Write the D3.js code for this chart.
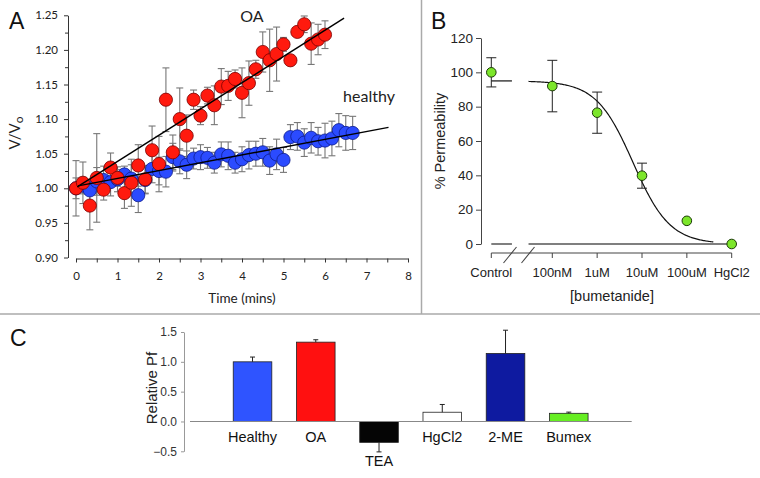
<!DOCTYPE html>
<html>
<head>
<meta charset="utf-8">
<script src="https://cdn.jsdelivr.net/npm/d3@7"></script>
<style>
body { margin: 0; background: #fff; }
text { font-family: "Liberation Sans", Arial, sans-serif; }
</style>
</head>
<body>
<div id="chart"></div>
<script>
// ---- panel A data: relative volume over time (time in seconds) ----
var oaTime = [0,10,20,30,40,50,60,70,80,90,100,110,120,130,140,150,160,170,180,190,200,210,220,230,240,250,260,270,280,290,300,310,320,330,340,350,360];
var oaVol = [1.000,1.008,0.975,1.015,0.998,1.030,1.015,0.993,1.008,1.033,1.013,1.055,1.035,1.128,1.052,1.100,1.076,1.128,1.105,1.134,1.120,1.147,1.148,1.158,1.138,1.152,1.172,1.197,1.185,1.194,1.208,1.185,1.226,1.237,1.209,1.215,1.222];
var oaErr = [0.040,0.030,0.035,0.064,0.015,0.021,0.012,0.022,0.034,0.030,0.020,0.035,0.040,0.046,0.025,0.045,0.030,0.014,0.013,0.012,0.028,0.026,0.021,0.013,0.036,0.032,0.013,0.029,0.045,0.039,0.010,0.005,0.006,0.012,0.030,0.022,0.020];

var healthyTime = [0,10,20,30,40,50,60,70,80,90,100,110,120,130,140,150,160,170,180,190,200,210,220,230,240,250,260,270,280,290,300,310,320,330,340,350,360,370,380,390,400];
var healthyVol = [1.000,1.004,0.997,1.010,1.012,1.009,1.013,1.020,1.014,0.990,1.012,1.028,1.025,1.024,1.045,1.039,1.034,1.043,1.045,1.044,1.037,1.049,1.047,1.037,1.042,1.048,1.050,1.052,1.040,1.049,1.041,1.074,1.075,1.066,1.073,1.068,1.069,1.072,1.084,1.080,1.080];
var healthyErr = [0.015,0.012,0.015,0.020,0.020,0.020,0.018,0.012,0.020,0.025,0.020,0.020,0.020,0.022,0.020,0.018,0.020,0.015,0.018,0.015,0.015,0.018,0.020,0.015,0.018,0.020,0.018,0.020,0.020,0.022,0.018,0.018,0.020,0.020,0.022,0.020,0.025,0.025,0.024,0.025,0.024];

// linear fits: [intercept, slope per min, start min, end min]
var oaFit = [1.001, 0.0379, 0.03, 6.46];
var healthyFit = [1.003, 0.0113, 0.05, 7.53];

// ---- panel B data: permeability vs bumetanide ----
var bCategories = ["Control", "100nM", "1uM", "10uM", "100uM", "HgCl2"];
var bLogConc = [-8.36, -7, -6, -5, -4, -3];
var bValues = [100, 92, 76.5, 39.8, 13.5, 0];
var bErrors = [8.5, 15, 12, 7.3, 1.5, 0];
// sigmoid fit: top, logIC50, hill
var bFit = [95, -5.2, 1.06];

// ---- panel C data: relative Pf ----
var cCategories = ["Healthy", "OA", "TEA", "HgCl2", "2-ME", "Bumex"];
var cValues = [1.0, 1.33, -0.35, 0.155, 1.14, 0.137];
var cErrors = [0.08, 0.04, 0.16, 0.13, 0.39, 0.02];
var cColors = ["#2f54ff", "#ff1010", "#050505", "#ffffff", "#0e1aa0", "#66ee22"];

var svg = d3.select("#chart")
    .append("svg")
    .attr("width", 760)
    .attr("height", 478);

// panel dividers
svg.append("line").attr("x1", 0).attr("x2", 760).attr("y1", 314).attr("y2", 314)
    .attr("stroke", "#aaa").attr("stroke-width", 1.5);
svg.append("line").attr("x1", 421.5).attr("x2", 421.5).attr("y1", 0).attr("y2", 314)
    .attr("stroke", "#aaa").attr("stroke-width", 1.5);

// panel letters
[["A", 9, 29], ["B", 431, 29], ["C", 10, 346]].forEach(function(p) {
    svg.append("text").attr("x", p[1]).attr("y", p[2])
        .style("font-size", "23px").attr("fill", "#111").text(p[0]);
});

// ================= panel A =================
var aFont = "Lato, 'Open Sans', sans-serif";
var xA = d3.scaleLinear().domain([0, 8]).range([76, 408]);
var yA = d3.scaleLinear().domain([0.9, 1.25]).range([257.5, 15.3]);
var gA = svg.append("g");

var xAxisA = gA.append("g")
    .attr("transform", "translate(0,258.5)")
    .call(d3.axisBottom(xA).tickValues(d3.range(0, 8.01, 0.5)).tickSize(4).tickSizeOuter(0)
        .tickFormat(function(d) { return d % 1 === 0 ? d : ""; }));
xAxisA.selectAll("text").style("font-family", aFont).style("font-size", "11.5px").attr("fill", "#222").attr("dy", "1.3em");
xAxisA.selectAll("line").attr("stroke", "#333");
xAxisA.select(".domain").attr("stroke", "#333");

var yAxisA = gA.append("g")
    .attr("transform", "translate(68,0)")
    .call(d3.axisLeft(yA).tickValues(d3.range(0.9, 1.2501, 0.05)).tickSize(4).tickSizeOuter(0)
        .tickFormat(d3.format(".2f")));
yAxisA.selectAll("text").style("font-family", aFont).style("font-size", "11.5px").attr("fill", "#222").attr("x", -10);
yAxisA.selectAll("line").attr("stroke", "#333");
yAxisA.select(".domain").attr("stroke", "#333");
gA.append("g")
    .attr("transform", "translate(68,0)")
    .call(d3.axisLeft(yA).tickValues(d3.range(0.925, 1.25, 0.05)).tickSize(3).tickFormat(""))
    .call(function(g) { g.select(".domain").remove(); })
    .selectAll("line").attr("stroke", "#333");

gA.append("text")
    .attr("transform", "translate(20,133) rotate(-90)")
    .style("text-anchor", "middle").style("font-family", aFont).style("font-size", "15px").attr("fill", "#222")
    .html("V/V<tspan dy='3' font-size='12px'>o</tspan>");
gA.append("text")
    .attr("x", 242).attr("y", 303)
    .style("text-anchor", "middle").style("font-family", aFont).style("font-size", "13.5px").attr("fill", "#222")
    .text("Time (mins)");
gA.append("text").attr("x", 252).attr("y", 22)
    .style("text-anchor", "middle").style("font-family", aFont).style("font-size", "16px").attr("fill", "#222")
    .text("OA");
gA.append("text").attr("x", 369).attr("y", 102)
    .style("text-anchor", "middle").style("font-family", aFont).style("font-size", "16px").attr("fill", "#222")
    .text("healthy");

function drawSeries(times, vals, errs) {
    var pts = times.map(function(t, i) { return { t: t / 60, v: vals[i], e: errs[i] }; });
    var eb = gA.append("g").attr("stroke", "#777").attr("stroke-width", 1.1);
    pts.forEach(function(d) {
        var x = xA(d.t), y0 = yA(d.v - d.e), y1 = yA(d.v + d.e);
        eb.append("line").attr("x1", x).attr("x2", x).attr("y1", y0).attr("y2", y1);
        eb.append("line").attr("x1", x - 3.5).attr("x2", x + 3.5).attr("y1", y0).attr("y2", y0);
        eb.append("line").attr("x1", x - 3.5).attr("x2", x + 3.5).attr("y1", y1).attr("y2", y1);
    });
    return pts;
}
var healthyPts = drawSeries(healthyTime, healthyVol, healthyErr);
var oaPts = drawSeries(oaTime, oaVol, oaErr);

gA.append("g").selectAll("circle")
    .data(healthyPts).enter().append("circle")
    .attr("cx", function(d) { return xA(d.t); })
    .attr("cy", function(d) { return yA(d.v); })
    .attr("r", 6.6)
    .attr("fill", "#2b4bff").attr("stroke", "#0c1c8a").attr("stroke-width", 0.8);
gA.append("g").selectAll("circle")
    .data(oaPts).enter().append("circle")
    .attr("cx", function(d) { return xA(d.t); })
    .attr("cy", function(d) { return yA(d.v); })
    .attr("r", 6.6)
    .attr("fill", "#ff1a0e").attr("stroke", "#7a0000").attr("stroke-width", 0.8);

[oaFit, healthyFit].forEach(function(f) {
    gA.append("line")
        .attr("x1", xA(f[2])).attr("y1", yA(f[0] + f[1] * f[2]))
        .attr("x2", xA(f[3])).attr("y2", yA(f[0] + f[1] * f[3]))
        .attr("stroke", "#000").attr("stroke-width", 1.4);
});

// ================= panel B =================
var xB = d3.scaleLinear().domain([-7, -3]).range([552.3, 731.7]);
var yB = d3.scaleLinear().domain([0, 120]).range([244, 38]);
var gB = svg.append("g");
var breakA = -7.9, breakB = -7.53;

var yAxisB = gB.append("g")
    .attr("transform", "translate(481,0)")
    .call(d3.axisLeft(yB).tickValues(d3.range(0, 121, 20)).tickSize(5).tickSizeOuter(0));
yAxisB.selectAll("text").style("font-size", "13.5px").attr("fill", "#222");
yAxisB.selectAll("line, .domain").attr("stroke", "#444");

// zero line with break
gB.append("line").attr("x1", xB(bLogConc[0])).attr("x2", xB(breakA)).attr("y1", yB(0)).attr("y2", yB(0))
    .attr("stroke", "#555").attr("stroke-width", 1.5);
gB.append("line").attr("x1", xB(breakB)).attr("x2", xB(-3)).attr("y1", yB(0)).attr("y2", yB(0))
    .attr("stroke", "#555").attr("stroke-width", 1.5);

// category axis below
var axY = 253;
gB.append("line").attr("x1", xB(bLogConc[0])).attr("x2", xB(-3)).attr("y1", axY).attr("y2", axY)
    .attr("stroke", "#444").attr("stroke-width", 1.2);
bCategories.forEach(function(c, i) {
    var x = xB(bLogConc[i]);
    gB.append("line").attr("x1", x).attr("x2", x).attr("y1", axY).attr("y2", axY + 5).attr("stroke", "#444");
    gB.append("text").attr("x", x).attr("y", 277)
        .style("text-anchor", "middle").style("font-size", "13px").attr("fill", "#222").text(c);
});
[510, 528].forEach(function(cx) {
    gB.append("line").attr("x1", cx - 6.5).attr("y1", axY + 10).attr("x2", cx + 6.5).attr("y2", axY - 6)
        .attr("stroke", "#444").attr("stroke-width", 1.1);
});

gB.append("text")
    .attr("transform", "translate(445,141) rotate(-90)")
    .style("text-anchor", "middle").style("font-size", "14.5px").attr("fill", "#222")
    .text("% Permeability");
gB.append("text").attr("x", 612).attr("y", 301)
    .style("text-anchor", "middle").style("font-size", "14.5px").attr("fill", "#222")
    .text("[bumetanide]");

// fit curve
function bCurve(lx) { return bFit[0] / (1 + Math.pow(10, (lx - bFit[1]) * bFit[2])); }
gB.append("line").attr("x1", xB(bLogConc[0])).attr("x2", xB(breakA))
    .attr("y1", yB(bFit[0])).attr("y2", yB(bFit[0]))
    .attr("stroke", "#111").attr("stroke-width", 1.2);
gB.append("path")
    .datum(d3.range(breakB, -3.4, 0.02))
    .attr("d", d3.line().x(function(d) { return xB(d); }).y(function(d) { return yB(bCurve(d)); }))
    .attr("fill", "none").attr("stroke", "#111").attr("stroke-width", 1.2);

// error bars and points
bValues.forEach(function(v, i) {
    var e = bErrors[i];
    if (e < 3) return;
    var x = xB(bLogConc[i]);
    gB.append("line").attr("x1", x).attr("x2", x).attr("y1", yB(v - e)).attr("y2", yB(v + e)).attr("stroke", "#222");
    gB.append("line").attr("x1", x - 5).attr("x2", x + 5).attr("y1", yB(v - e)).attr("y2", yB(v - e)).attr("stroke", "#222");
    gB.append("line").attr("x1", x - 5).attr("x2", x + 5).attr("y1", yB(v + e)).attr("y2", yB(v + e)).attr("stroke", "#222");
});
gB.selectAll("circle.bpt")
    .data(bValues).enter().append("circle")
    .attr("class", "bpt")
    .attr("cx", function(d, i) { return xB(bLogConc[i]); })
    .attr("cy", function(d) { return yB(d); })
    .attr("r", 4.8)
    .attr("fill", "#7ce62a").attr("stroke", "#1c3a08").attr("stroke-width", 1);

// ================= panel C =================
var xC = d3.scaleBand().domain(cCategories).range([220.9, 600.4]).paddingInner(0.39).paddingOuter(0.195);
var yC = d3.scaleLinear().domain([-0.5, 1.5]).range([451.3, 332]);
var gC = svg.append("g");

var yAxisC = gC.append("g")
    .attr("transform", "translate(184,0)")
    .call(d3.axisLeft(yC).tickValues([-0.5, 0, 0.5, 1.0, 1.5]).tickSize(3).tickSizeOuter(0).tickFormat(d3.format(".1f")));
yAxisC.selectAll("text").style("font-size", "12px").attr("fill", "#333").attr("x", -7);
yAxisC.selectAll("line, .domain").attr("stroke", "#999");

gC.append("text")
    .attr("transform", "translate(157,388) rotate(-90)")
    .style("text-anchor", "middle").style("font-size", "15px").attr("fill", "#222")
    .text("Relative Pf");

gC.selectAll("rect")
    .data(cValues).enter().append("rect")
    .attr("x", function(d, i) { return xC(cCategories[i]); })
    .attr("width", xC.bandwidth())
    .attr("y", function(d) { return yC(Math.max(0, d)); })
    .attr("height", function(d) { return Math.abs(yC(d) - yC(0)); })
    .attr("fill", function(d, i) { return cColors[i]; })
    .attr("stroke", "#222").attr("stroke-width", 0.8);

gC.append("line").attr("x1", 190).attr("x2", 631.7).attr("y1", yC(0)).attr("y2", yC(0))
    .attr("stroke", "#888").attr("stroke-width", 1.2);

cValues.forEach(function(v, i) {
    var x = xC(cCategories[i]) + xC.bandwidth() / 2;
    var tip = v < 0 ? v - cErrors[i] : v + cErrors[i];
    gC.append("line").attr("x1", x).attr("x2", x).attr("y1", yC(v)).attr("y2", yC(tip)).attr("stroke", "#222");
    gC.append("line").attr("x1", x - 2.5).attr("x2", x + 2.5).attr("y1", yC(tip)).attr("y2", yC(tip)).attr("stroke", "#222");
    gC.append("text")
        .attr("x", x)
        .attr("y", yC(Math.min(0, v)) + (v < 0 ? 24 : 21))
        .style("text-anchor", "middle").style("font-size", "14.5px").attr("fill", "#111")
        .text(cCategories[i]);
});
</script>
</body>
</html>
